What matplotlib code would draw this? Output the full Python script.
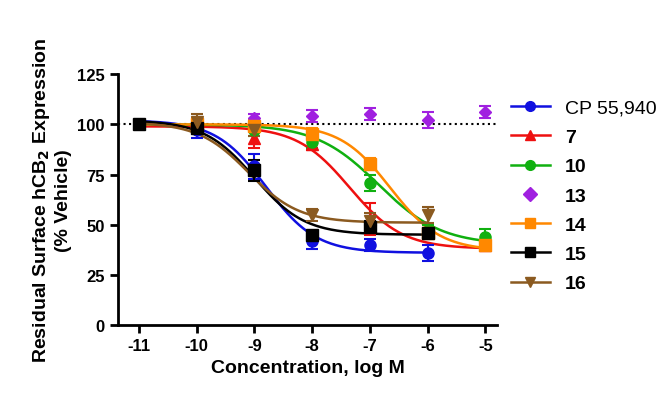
import numpy as np
import matplotlib.pyplot as plt

plt.rcParams['font.family'] = ['Liberation Sans', 'DejaVu Sans']
plt.rcParams['axes.unicode_minus'] = False

names = ['CP 55,940', '7', '10', '13', '14', '15', '16']
colors = ['#1010e0', '#ee1010', '#10b010', '#a020e0', '#ff8800', '#000000', '#8b5a20']
markers = ['o', '^', 'o', 'D', 's', 's', 'v']

conc = {
    'CP 55,940': [-11, -10, -9, -8, -7, -6],
    '7': [-10, -9, -8, -7, -6, -5],
    '10': [-10, -9, -8, -7, -6, -5],
    '13': [-9, -8, -7, -6, -5],
    '14': [-10, -9, -8, -7, -6, -5],
    '15': [-11, -10, -9, -8, -7, -6],
    '16': [-10, -9, -8, -7, -6],
}
resp = {
    'CP 55,940': [100, 97, 79, 42, 40, 36],
    '7': [99, 93, 90, 53, 47, 40],
    '10': [99, 97, 91, 71, 47, 44],
    '13': [103, 104, 105, 102, 106],
    '14': [100, 99, 95, 80, 46, 40],
    '15': [100, 98, 77, 45, 49, 46],
    '16': [101, 97, 55, 52, 55],
}
err = {
    'CP 55,940': [1, 4, 6, 4, 3, 4],
    '7': [3, 5, 3, 8, 3, 2],
    '10': [2, 3, 3, 4, 3, 4],
    '13': [2, 3, 3, 4, 3],
    '14': [3, 3, 3, 3, 2, 2],
    '15': [1, 3, 5, 2, 3, 2],
    '16': [4, 3, 3, 4, 4],
}
# fitted sigmoid parameters: top, bottom, logIC50, hill, x range
fit_top = {'CP 55,940': 102, '7': 99, '10': 100, '14': 100, '15': 102, '16': 101}
fit_bottom = {'CP 55,940': 36, '7': 38, '10': 40, '14': 37, '15': 45, '16': 51}
fit_ic50 = {'CP 55,940': -8.8, '7': -7.35, '10': -6.85, '14': -6.65, '15': -9.0, '16': -9.1}
fit_hill = {'CP 55,940': 1.0, '7': 0.95, '10': 0.8, '14': 1.0, '15': 1.0, '16': 1.0}
fit_end = {'CP 55,940': -6, '7': -5, '10': -5, '14': -5, '15': -6, '16': -6}

fig, ax = plt.subplots(figsize=(6.67, 4.02), dpi=100)
fig.subplots_adjust(left=0.177, right=0.745, top=0.813, bottom=0.189)

ax.axhline(100, color='black', ls=':', lw=1.5, zorder=0)

for n, c, m in zip(names, colors, markers):
    ms = 6 if m == 'D' else 8
    ax.errorbar(conc[n], resp[n], yerr=err[n], fmt=m, color=c, ms=ms,
                capsize=4, elinewidth=1.5, capthick=1.5, zorder=3)
    if n in fit_top:
        xs = np.linspace(-11, fit_end[n], 300)
        ys = fit_bottom[n] + (fit_top[n] - fit_bottom[n]) / (1 + 10 ** ((xs - fit_ic50[n]) * fit_hill[n]))
        ax.plot(xs, ys, color=c, lw=1.8, zorder=2)

ax.set_xlim(-11.36, -4.8)
ax.set_ylim(0, 125)
ax.set_xticks(range(-11, -4))
ax.set_yticks(range(0, 126, 25))
for s in ['top', 'right']:
    ax.spines[s].set_visible(False)
ax.spines['left'].set_linewidth(2)
ax.spines['bottom'].set_linewidth(2)
ax.tick_params(width=2, length=6, labelsize=12)
for t in ax.get_xticklabels() + ax.get_yticklabels():
    t.set_fontweight('bold')
ax.set_xlabel('Concentration, log M', fontsize=14, fontweight='bold')
ax.set_ylabel('Residual Surface hCB$_\\mathbf{2}$ Expression\n(% Vehicle)', fontsize=14, fontweight='bold')

handles = []
for n, c, m in zip(names, colors, markers):
    h, = ax.plot([], [], marker=m, color=c, lw=1.8 if n != '13' else 0, ms=7)
    handles.append(h)
leg = ax.legend(handles, names, loc='upper left', bbox_to_anchor=(0.99, 0.97), frameon=False,
                fontsize=14, labelspacing=0.6, handlelength=2)
for i, t in enumerate(leg.get_texts()):
    if i > 0:
        t.set_fontweight('bold')

fig.savefig('out.png')
